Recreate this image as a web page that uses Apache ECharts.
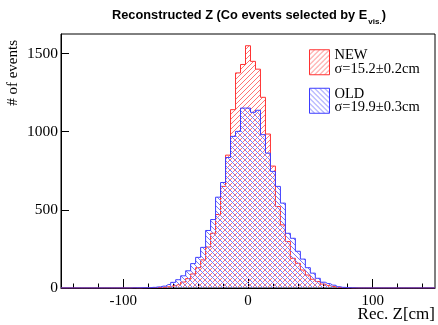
<!DOCTYPE html>
<html>
<head>
<meta charset="utf-8">
<script src="https://cdn.jsdelivr.net/npm/echarts@6/dist/echarts.min.js"></script>
<style>
html,body{margin:0;padding:0;background:#fff;}
#chart{width:438px;height:325px;}
</style>
</head>
<body>
<div id="chart"></div>
<script>
// Binning: 75 bins of 4 cm from -150 to 150
const binLow = -150;
const binWidth = 4;
// NEW counts per bin (centers -148 ... 148)
const newCounts = [
  0,0,0,0,0,0,0,0,0,0,0,0,0,0,
  1,0,1,2,2,3,5,8,14,22,38,60,90,130,180,262,350,470,650,850,1141,1376,1430,
  1550,
  1450,1400,1220,985,780,521,404,297,190,158,115,83,56,41,25,15,9,4,2,1,
  0,0,0,0,0,0,0,0,0,0,0,0,0,0,0,0,0
];
// OLD counts per bin
const oldCounts = [
  0,0,0,0,0,0,0,0,0,0,0,0,0,0,
  1,1,2,2,4,7,12,22,36,53,78,110,156,196,260,368,438,581,675,835,970,1002,1151,
  1151,
  1124,1137,981,863,746,650,543,350,318,235,185,130,95,62,37,28,18,8,4,2,1,
  0,0,0,0,0,0,0,0,0,0,0,0,0,0,0,0
];
const seriesNames = ['NEW', 'OLD'];
const sigmaLabels = ['σ=15.2±0.2cm', 'σ=19.9±0.3cm'];
const xLabelValues = [-100, 0, 100];
const xMinorTickValues = [-140,-120,-100,-80,-60,-40,-20,0,20,40,60,80,100,120,140];
const yLabelValues = [0, 500, 1000, 1500];

function toPairs(counts) {
  const pts = [[binLow, 0]];
  for (let i = 0; i < counts.length; i++) {
    pts.push([binLow + binWidth * (i + 0.5), counts[i]]);
  }
  pts.push([binLow + binWidth * counts.length, 0]);
  return pts;
}

// hatch tile: diagonal line, "/" when up is true, "\" otherwise
function hatch(color, up) {
  const n = 5;
  const c = document.createElement('canvas');
  c.width = n; c.height = n;
  const ctx = c.getContext('2d');
  ctx.fillStyle = color;
  for (let i = 0; i < n; i++) {
    const y = up ? n - 1 - i : i;
    ctx.fillRect(i, y, 1, 1);
  }
  return c;
}

const redLine = 'rgb(255,50,50)';
const blueLine = 'rgb(60,60,255)';
const redPattern = { image: hatch('rgb(255,115,115)', true), repeat: 'repeat' };
const bluePattern = { image: hatch('rgb(120,120,255)', false), repeat: 'repeat' };

const chart = echarts.init(document.getElementById('chart'), null, { renderer: 'canvas' });
const serif = 'Liberation Serif';

chart.setOption({
  animation: false,
  backgroundColor: '#fff',
  title: {
    left: 112, top: 9, padding: 0,
    text: '{a|Reconstructed Z (Co events selected by E}{b|vis.}{a|)}',
    textStyle: {
      rich: {
        a: { fontFamily: 'Liberation Sans', fontWeight: 'bold', fontSize: 12.8, lineHeight: 15, verticalAlign: 'top', color: '#000' },
        b: { fontFamily: 'Liberation Sans', fontWeight: 'bold', fontSize: 8, lineHeight: 10, verticalAlign: 'top', padding: [9, 0, 0, 1], color: '#000' }
      }
    }
  },
  legend: {
    left: 309, top: 48, orient: 'vertical', padding: 0,
    itemWidth: 20, itemHeight: 25, selectedMode: false, itemGap: 10,
    icon: 'rect',
    data: [
      { name: seriesNames[0], itemStyle: { color: redPattern, borderColor: redLine, borderWidth: 1 } },
      { name: seriesNames[1], itemStyle: { color: bluePattern, borderColor: blueLine, borderWidth: 1 } }
    ],
    formatter: function (name) { return name + '\n' + sigmaLabels[seriesNames.indexOf(name)]; },
    textStyle: { fontFamily: serif, fontSize: 14.5, lineHeight: 13.5, color: '#000' }
  },
  grid: { left: 61, right: 1, top: 34, bottom: 37, show: true, borderColor: '#000', borderWidth: 1, backgroundColor: 'transparent' },
  xAxis: [
    {
      type: 'value', min: -150, max: 150,
      name: 'Rec. Z[cm]', nameLocation: 'end', nameGap: 0, nameMoveOverlap: false,
      nameTextStyle: { fontFamily: serif, fontSize: 17, color: '#000', align: 'right', verticalAlign: 'top', padding: [18, 0, 0, 0] },
      axisLine: { show: true, onZero: false, lineStyle: { color: '#000', width: 1 } },
      axisTick: { show: true, inside: true, length: 9, customValues: xLabelValues, lineStyle: { color: '#000' } },
      axisLabel: { customValues: xLabelValues, fontFamily: serif, fontSize: 15, color: '#000', margin: 6 },
      splitLine: { show: false }
    },
    {
      type: 'value', min: -150, max: 150, position: 'bottom',
      axisLine: { show: false, onZero: false },
      axisTick: { show: true, inside: true, length: 4.5, customValues: xMinorTickValues, lineStyle: { color: '#000' } },
      axisLabel: { show: false },
      splitLine: { show: false }
    }
  ],
  yAxis: {
    type: 'value', min: 0, max: 1625, position: 'left',
    name: '# of events', nameLocation: 'end', nameGap: -6, nameRotate: 90, nameMoveOverlap: false,
    nameTextStyle: { fontFamily: serif, fontSize: 15, color: '#000', align: 'right', verticalAlign: 'bottom', padding: [0, 0, 40, 0] },
    axisLine: { show: true, onZero: false, lineStyle: { color: '#000', width: 1 } },
    axisTick: { show: true, inside: true, length: 8, customValues: yLabelValues, lineStyle: { color: '#000' } },
    axisLabel: { customValues: yLabelValues, fontFamily: serif, fontSize: 15.5, color: '#000', margin: 3, formatter: function (v) { return String(v); } },
    splitLine: { show: false }
  },
  series: [
    {
      name: seriesNames[0], type: 'line', step: 'middle', data: toPairs(newCounts),
      symbol: 'none', showSymbol: false, silent: true,
      lineStyle: { color: redLine, width: 1 }, itemStyle: { color: redLine },
      areaStyle: { color: redPattern, opacity: 1 }, z: 2
    },
    {
      name: seriesNames[1], type: 'line', step: 'middle', data: toPairs(oldCounts),
      symbol: 'none', showSymbol: false, silent: true,
      lineStyle: { color: blueLine, width: 1 }, itemStyle: { color: blueLine },
      areaStyle: { color: bluePattern, opacity: 1 }, z: 3
    }
  ]
});
</script>
</body>
</html>
